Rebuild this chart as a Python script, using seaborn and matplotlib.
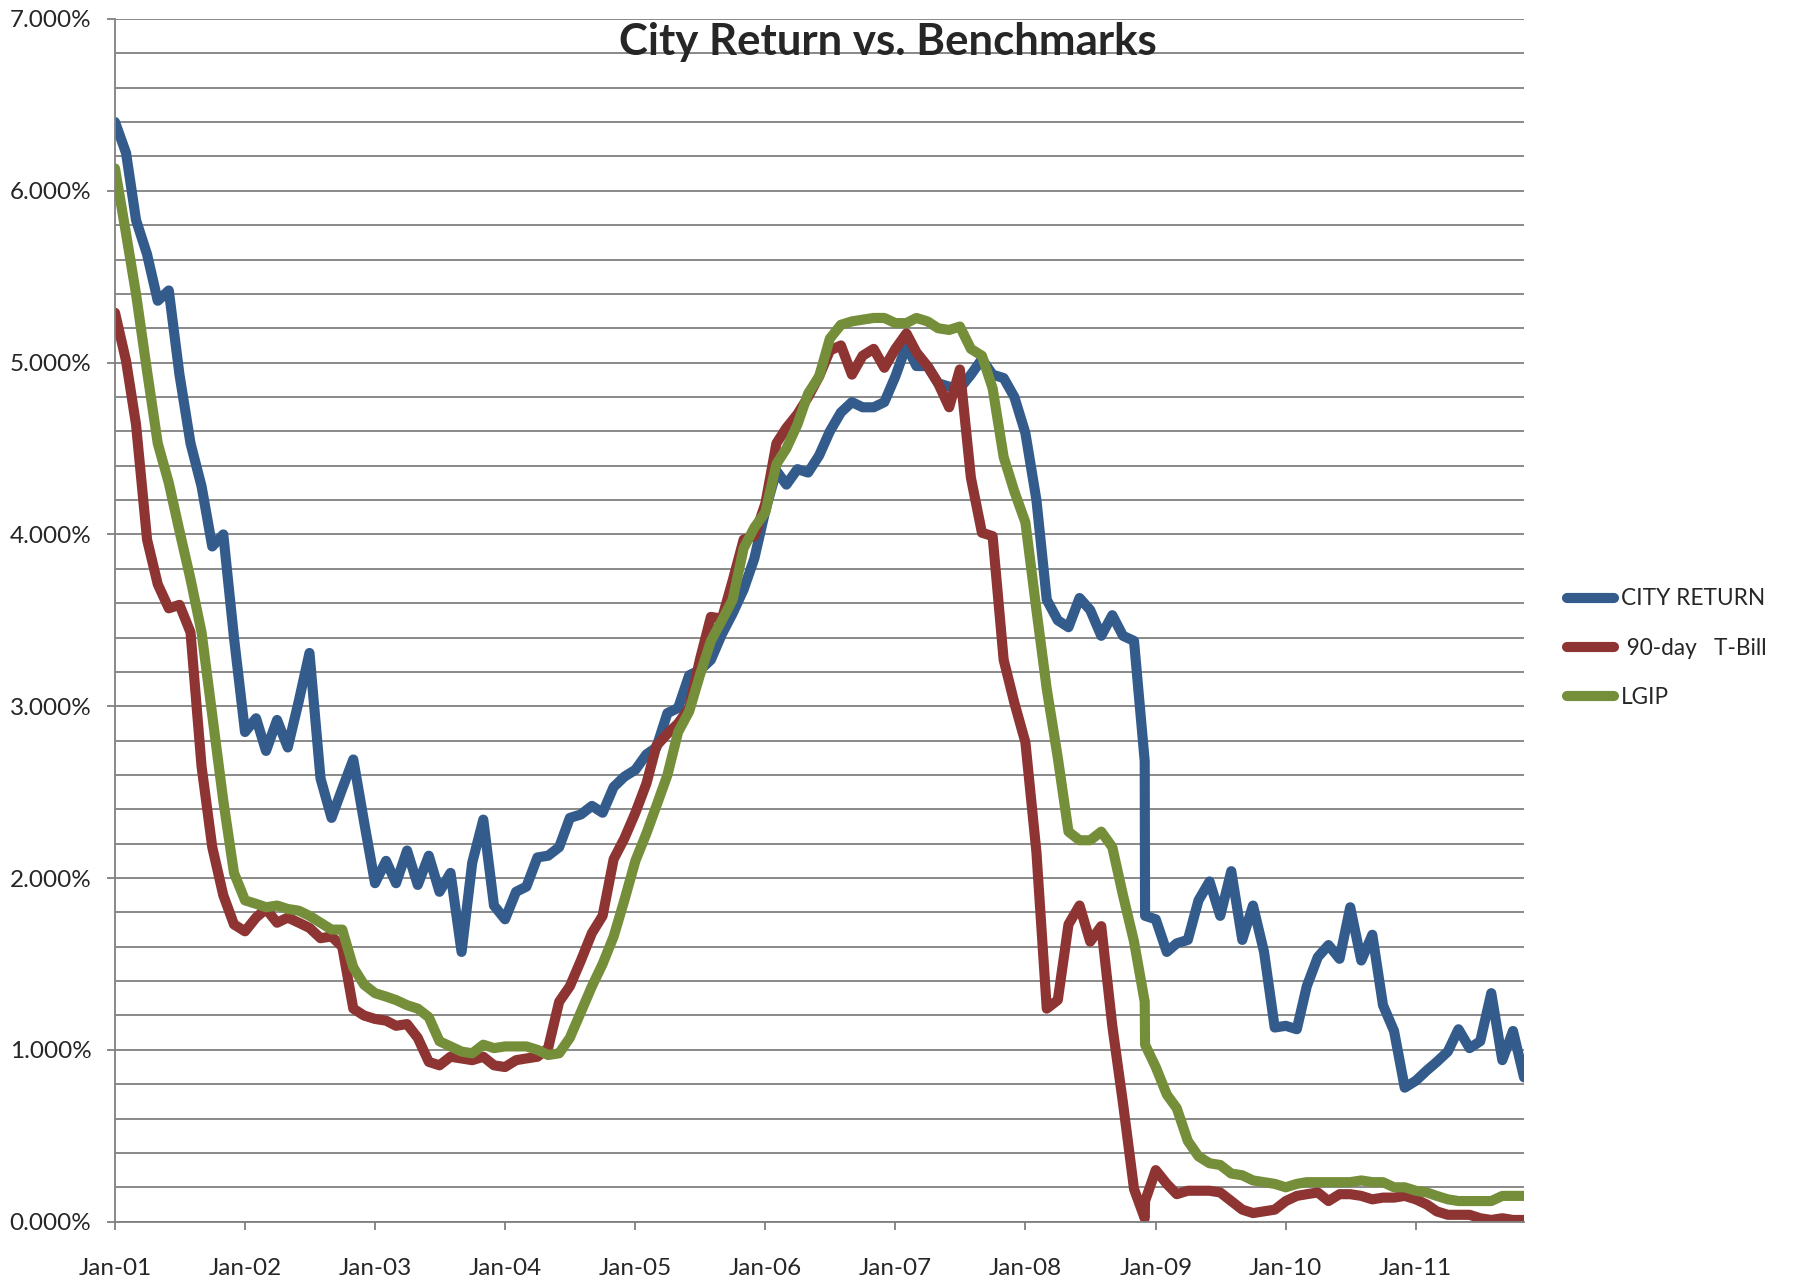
import matplotlib

matplotlib.use("Agg")
import matplotlib.dates as mdates
import matplotlib.pyplot as plt
import numpy as np
import pandas as pd
import seaborn as sns
from matplotlib.ticker import FuncFormatter, MultipleLocator

# monthly figures Jan-01 .. Nov-11, Dec-08 was reported twice (second row a day later)
months = list(pd.date_range("2001-01-01", periods=131, freq="MS"))
dates = months[:96] + [pd.Timestamp("2008-12-02")] + months[96:]

city_return = [
    6.40, 6.22, 5.83, 5.63, 5.36, 5.42, 4.93, 4.53, 4.28, 3.93,
    4.00, 3.40, 2.85, 2.93, 2.74, 2.92, 2.76, 3.03, 3.31, 2.58,
    2.35, 2.52, 2.69, 2.33, 1.97, 2.10, 1.97, 2.16, 1.96, 2.13,
    1.92, 2.03, 1.57, 2.09, 2.34, 1.84, 1.76, 1.92, 1.95, 2.12,
    2.13, 2.18, 2.35, 2.37, 2.42, 2.38, 2.53, 2.59, 2.63, 2.72,
    2.76, 2.96, 2.99, 3.18, 3.21, 3.27, 3.42, 3.54, 3.68, 3.86,
    4.14, 4.37, 4.29, 4.38, 4.36, 4.46, 4.60, 4.71, 4.77, 4.74,
    4.74, 4.77, 4.92, 5.10, 4.98, 4.98, 4.88, 4.86, 4.85, 4.93,
    5.02, 4.93, 4.91, 4.80, 4.59, 4.20, 3.62, 3.50, 3.46, 3.63,
    3.56, 3.41, 3.53, 3.41, 3.38, 2.68, 1.78, 1.76, 1.57, 1.62, 1.64,
    1.87, 1.98, 1.78, 2.04, 1.64, 1.84, 1.57, 1.13, 1.14, 1.12,
    1.37, 1.54, 1.61, 1.53, 1.83, 1.52, 1.67, 1.26, 1.11, 0.78,
    0.82, 0.88, 0.93, 0.99, 1.12, 1.01, 1.05, 1.33, 0.94, 1.11,
    0.84,
]

tbill_90day = [
    5.29, 5.01, 4.64, 3.97, 3.71, 3.57, 3.59, 3.43, 2.65, 2.18,
    1.90, 1.73, 1.69, 1.77, 1.82, 1.74, 1.77, 1.74, 1.71, 1.65,
    1.66, 1.60, 1.24, 1.20, 1.18, 1.17, 1.14, 1.15, 1.07, 0.93,
    0.91, 0.96, 0.95, 0.94, 0.96, 0.91, 0.90, 0.94, 0.95, 0.96,
    1.01, 1.28, 1.37, 1.52, 1.68, 1.78, 2.11, 2.23, 2.38, 2.55,
    2.77, 2.84, 2.90, 2.99, 3.27, 3.52, 3.51, 3.73, 3.97, 3.99,
    4.18, 4.53, 4.62, 4.70, 4.80, 4.92, 5.07, 5.10, 4.93, 5.04,
    5.08, 4.97, 5.08, 5.17, 5.06, 4.98, 4.88, 4.74, 4.96, 4.33,
    4.01, 3.99, 3.27, 3.02, 2.79, 2.15, 1.24, 1.29, 1.73, 1.84,
    1.63, 1.72, 1.14, 0.69, 0.19, 0.02, 0.12, 0.30, 0.22, 0.16, 0.18,
    0.18, 0.18, 0.17, 0.12, 0.07, 0.05, 0.06, 0.07, 0.12, 0.15,
    0.16, 0.17, 0.12, 0.16, 0.16, 0.15, 0.13, 0.14, 0.14, 0.15,
    0.13, 0.10, 0.06, 0.04, 0.04, 0.04, 0.02, 0.01, 0.02, 0.01,
    0.01,
]

lgip = [
    6.13, 5.75, 5.40, 4.95, 4.53, 4.30, 4.02, 3.74, 3.43, 2.95,
    2.45, 2.03, 1.87, 1.85, 1.83, 1.84, 1.82, 1.81, 1.78, 1.74,
    1.70, 1.70, 1.48, 1.38, 1.33, 1.31, 1.29, 1.26, 1.24, 1.19,
    1.05, 1.02, 0.99, 0.98, 1.03, 1.01, 1.02, 1.02, 1.02, 1.00,
    0.97, 0.98, 1.07, 1.22, 1.37, 1.50, 1.66, 1.87, 2.10, 2.26,
    2.42, 2.60, 2.85, 2.97, 3.18, 3.38, 3.50, 3.62, 3.92, 4.04,
    4.13, 4.41, 4.50, 4.64, 4.82, 4.92, 5.14, 5.22, 5.24, 5.25,
    5.26, 5.26, 5.23, 5.23, 5.26, 5.24, 5.20, 5.19, 5.21, 5.08,
    5.04, 4.85, 4.45, 4.25, 4.07, 3.56, 3.10, 2.70, 2.27, 2.22,
    2.22, 2.27, 2.18, 1.90, 1.63, 1.28, 1.03, 0.90, 0.74, 0.66, 0.47,
    0.38, 0.34, 0.33, 0.28, 0.27, 0.24, 0.23, 0.22, 0.20, 0.22,
    0.23, 0.23, 0.23, 0.23, 0.23, 0.24, 0.23, 0.23, 0.20, 0.20,
    0.18, 0.17, 0.15, 0.13, 0.12, 0.12, 0.12, 0.12, 0.15, 0.15,
    0.15,
]

series_names = ["CITY RETURN", " 90-day   T-Bill", "LGIP"]
series_colors = ["#335c8d", "#8e3432", "#758e3a"]
year_ticks = pd.date_range("2001-01-01", "2011-01-01", freq="YS")

frames = []
for name, values in zip(series_names, [city_return, tbill_90day, lgip]):
    frames.append(pd.DataFrame({"date": dates, "value": values, "series": name}))
df = pd.concat(frames, ignore_index=True)

sns.set_style("white")
plt.rcParams["font.family"] = ["Lato", "DejaVu Sans"]

fig = plt.figure(figsize=(17.97, 12.83), dpi=100)
ax = fig.add_axes([0.0640, 0.0478, 0.7841, 0.9374])

grid_color = "#808080"
line_width = 7.3
sns.lineplot(
    data=df,
    x="date",
    y="value",
    hue="series",
    hue_order=series_names,
    palette=dict(zip(series_names, series_colors)),
    linewidth=line_width,
    sort=False,
    estimator=None,
    ax=ax,
)
for line in ax.get_lines():
    line.set_solid_joinstyle("round")

ax.set_xlim(dates[0], dates[-1])
ax.set_ylim(0, 7)
ax.yaxis.set_major_locator(MultipleLocator(1))
ax.yaxis.set_minor_locator(MultipleLocator(0.2))
ax.yaxis.set_major_formatter(FuncFormatter(lambda v, _: f"{v:.3f}%"))
ax.set_xticks(year_ticks)
ax.xaxis.set_major_formatter(mdates.DateFormatter("%b-%y"))

ax.set_axisbelow(True)
ax.yaxis.grid(True, which="both", color=grid_color, linewidth=1.3)
ax.xaxis.grid(False)
for side in ["top", "right"]:
    ax.spines[side].set_visible(False)
for side in ["left", "bottom"]:
    ax.spines[side].set_color(grid_color)
    ax.spines[side].set_linewidth(1.3)

ax.tick_params(axis="y", which="major", length=6, width=1.3, color=grid_color,
               direction="out", left=True, pad=11, labelsize=17.5)
ax.tick_params(axis="y", which="minor", length=0)
ax.tick_params(axis="x", length=6, width=1.3, color=grid_color,
               direction="out", bottom=True, pad=20, labelsize=17.5)
ax.set_xlabel("")
ax.set_ylabel("")

handles, labels = ax.get_legend_handles_labels()
for handle in handles:
    handle.set_linewidth(line_width)
    handle.set_solid_capstyle("round")
ax.legend(
    handles,
    labels,
    loc="center left",
    bbox_to_anchor=(0.8718, 0.4949),
    bbox_transform=fig.transFigure,
    frameon=False,
    fontsize=16.3,
    handlelength=2.1,
    handletextpad=0.3,
    labelspacing=1.24,
    borderpad=0,
    borderaxespad=0,
)

fig.text(888 / 1797, 1 - 42 / 1283, "City Return vs. Benchmarks",
         ha="center", va="center", fontsize=31.5, fontweight="bold")

fig.savefig("out.png", dpi=100, facecolor="white")
